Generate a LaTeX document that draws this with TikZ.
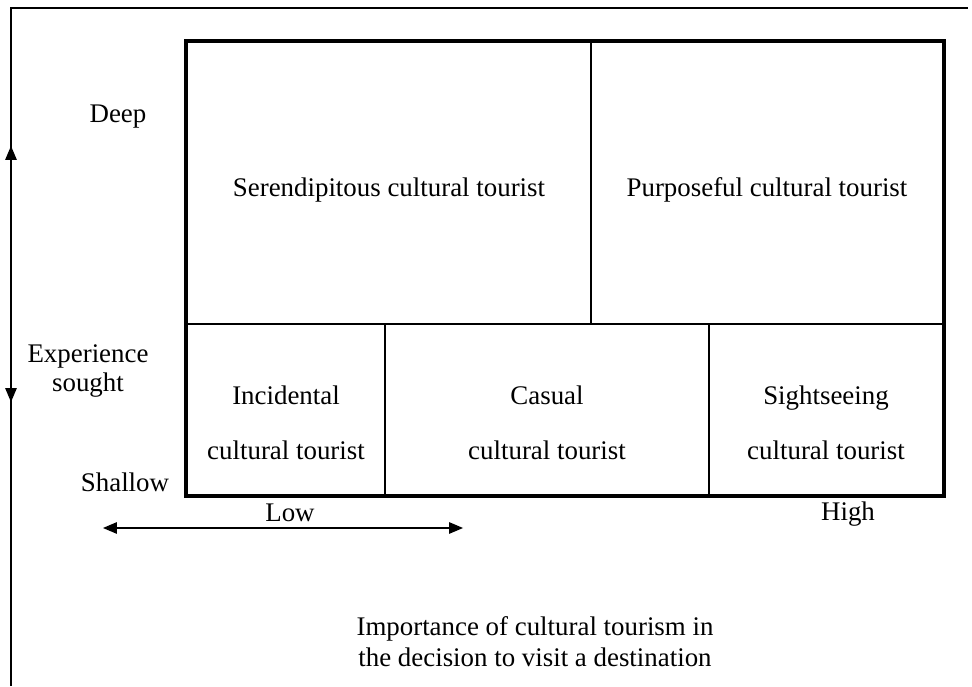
\documentclass[tikz,border=0pt]{standalone}
\usepackage{fontspec}
\setmainfont{Liberation Serif}
\usetikzlibrary{arrows}

\begin{document}
\begin{tikzpicture}[line cap=butt,line join=miter,>=triangle 45,x=1.0cm,y=1.0cm,
	lbl/.style={font=\fontsize{15.3}{16}\selectfont,align=center,inner sep=0pt},
	cellline/.style={line width=1.1pt}]
	\useasboundingbox (0.,0.) rectangle (19.44,13.72);
	% frame and vertical axis
	\draw [line width=0.8pt] (0.22,0.) -- (0.22,13.56) -- (19.36,13.56);
	\coordinate (deeptip) at (0.22,10.80);
	\coordinate (shallowtip) at (0.22,5.68);
	\draw [line width=0.8pt,<->] (shallowtip) -- (deeptip);
	% cells
	\draw [cellline] (3.72,7.24) -- (18.88,7.24);
	\draw [cellline] (11.82,7.24) -- (11.82,12.90);
	\draw [cellline] (7.70,3.80) -- (7.70,7.24);
	\draw [cellline] (14.18,3.80) -- (14.18,7.24);
	\draw [line width=2.3pt] (3.72,3.80) rectangle (18.88,12.90);
	\node[lbl] (seren) at (7.78,9.92) {Serendipitous cultural tourist};
	\node[lbl] (purpose) at (15.34,9.92) {Purposeful cultural tourist};
	\node[lbl] (incid) at (5.72,5.26) {Incidental\\[0.54cm]cultural tourist};
	\node[lbl] (casual) at (10.94,5.26) {Casual\\[0.54cm]cultural tourist};
	\node[lbl] (sight) at (16.52,5.26) {Sightseeing\\[0.54cm]cultural tourist};
	% axis labels
	\node[lbl] (deep) at (2.36,11.38) {Deep};
	\node[lbl] (exper) at (1.76,6.30) {Experience\\sought};
	\node[lbl] (shallow) at (2.50,4.08) {Shallow};
	\node[lbl] (low) at (5.80,3.46) {Low};
	\node[lbl] (high) at (16.96,3.44) {High};
	\coordinate (lowend) at (2.06,3.16);
	\coordinate (highend) at (9.26,3.16);
	\draw [line width=0.8pt,<->] (lowend) -- (highend);
	\node[lbl] (import) at (10.70,0.88) {Importance of cultural tourism in\\[0.06cm]the decision to visit a destination};
\end{tikzpicture}
\end{document}
